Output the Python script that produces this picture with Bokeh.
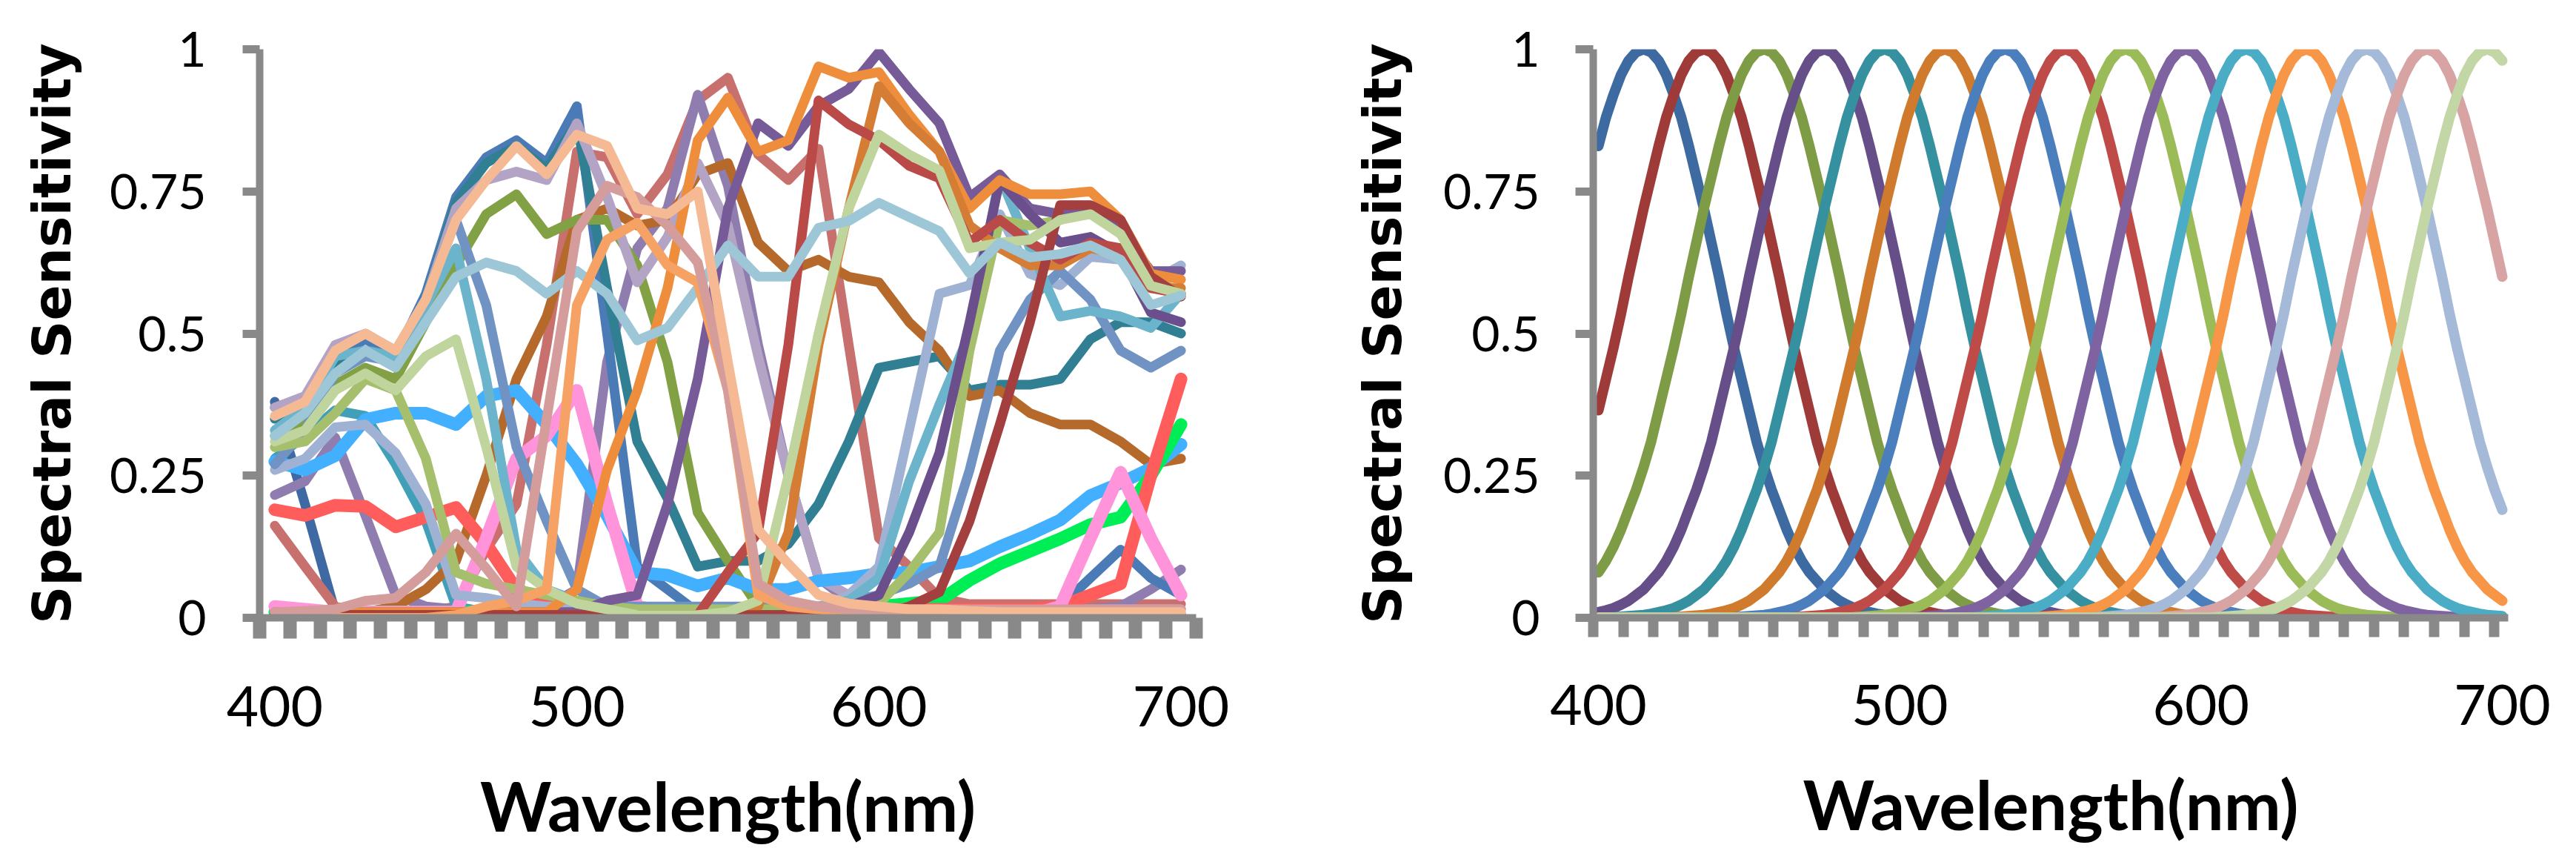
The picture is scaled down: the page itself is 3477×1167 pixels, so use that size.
from bokeh.plotting import figure
from bokeh.models import FixedTicker
from bokeh.layouts import row
from bokeh.embed import file_html
from bokeh.resources import INLINE

# ---------------- data: left chart (sampled every 10 nm) ----------------
WL = [400, 410, 420, 430, 440, 450, 460, 470, 480, 490, 500, 510, 520, 530, 540, 550,
      560, 570, 580, 590, 600, 610, 620, 630, 640, 650, 660, 670, 680, 690, 700]

S_darkblue = [0.38, 0.20, 0.01, 0.005, 0.005, 0.005, 0.005, 0.005, 0.005, 0.005, 0.005, 0.005, 0.005, 0.005, 0.005, 0.005,
              0.005, 0.005, 0.005, 0.005, 0.005, 0.005, 0.005, 0.005, 0.005, 0.005, 0.005, 0.005, 0.005, 0.005, 0.005]
S_dustyred = [0.162, 0.09, 0.02, 0.01, 0.01, 0.01, 0.02, 0.12, 0.20, 0.48, 0.82, 0.81, 0.71, 0.78, 0.91, 0.95,
              0.815, 0.77, 0.825, 0.48, 0.14, 0.09, 0.035, 0.024, 0.024, 0.024, 0.024, 0.024, 0.024, 0.024, 0.024]
S_purple = [0.216, 0.24, 0.317, 0.18, 0.04, 0.02, 0.015, 0.01, 0.01, 0.02, 0.05, 0.45, 0.65, 0.72, 0.92, 0.76,
            0.48, 0.25, 0.07, 0.03, 0.02, 0.015, 0.015, 0.015, 0.015, 0.015, 0.015, 0.015, 0.02, 0.05, 0.085]
S_teal2 = [0.28, 0.32, 0.365, 0.355, 0.27, 0.17, 0.02, 0.01, 0.005, 0.005, 0.005, 0.005, 0.005, 0.005, 0.005, 0.005,
           0.005, 0.005, 0.005, 0.005, 0.005, 0.005, 0.005, 0.005, 0.005, 0.005, 0.005, 0.005, 0.005, 0.005, 0.005]
S_blue = [0.37, 0.38, 0.46, 0.49, 0.46, 0.57, 0.74, 0.81, 0.84, 0.80, 0.90, 0.50, 0.09, 0.05, 0.01, 0.01,
          0.01, 0.01, 0.01, 0.01, 0.01, 0.01, 0.01, 0.01, 0.01, 0.01, 0.02, 0.07, 0.12, 0.07, 0.04]
S_teal = [0.35, 0.36, 0.44, 0.47, 0.45, 0.56, 0.73, 0.80, 0.83, 0.79, 0.87, 0.58, 0.31, 0.21, 0.09, 0.10,
          0.10, 0.13, 0.20, 0.31, 0.44, 0.45, 0.46, 0.40, 0.41, 0.41, 0.42, 0.49, 0.52, 0.52, 0.50]
S_brown = [0.005, 0.005, 0.01, 0.01, 0.02, 0.05, 0.10, 0.25, 0.42, 0.53, 0.70, 0.72, 0.69, 0.70, 0.78, 0.80,
           0.66, 0.61, 0.63, 0.60, 0.59, 0.52, 0.47, 0.39, 0.40, 0.36, 0.34, 0.34, 0.31, 0.27, 0.28]
S_olive = [0.32, 0.34, 0.41, 0.44, 0.42, 0.52, 0.62, 0.71, 0.745, 0.675, 0.70, 0.70, 0.62, 0.45, 0.185, 0.10,
           0.02, 0.01, 0.01, 0.005, 0.005, 0.005, 0.005, 0.005, 0.005, 0.005, 0.005, 0.005, 0.005, 0.005, 0.005]
S_lavender = [0.37, 0.39, 0.48, 0.50, 0.47, 0.56, 0.72, 0.77, 0.785, 0.77, 0.87, 0.74, 0.59, 0.67, 0.80, 0.69,
              0.46, 0.25, 0.07, 0.04, 0.02, 0.015, 0.015, 0.015, 0.015, 0.015, 0.015, 0.015, 0.015, 0.015, 0.015]
S_palecyan = [0.32, 0.36, 0.43, 0.47, 0.44, 0.52, 0.60, 0.625, 0.61, 0.57, 0.61, 0.57, 0.488, 0.51, 0.58, 0.655,
              0.60, 0.60, 0.686, 0.698, 0.73, 0.705, 0.68, 0.606, 0.66, 0.634, 0.64, 0.655, 0.63, 0.55, 0.567]
S_palegreen = [0.31, 0.33, 0.40, 0.43, 0.40, 0.46, 0.49, 0.30, 0.09, 0.05, 0.025, 0.015, 0.005, 0.005, 0.005, 0.01,
               0.03, 0.25, 0.50, 0.72, 0.85, 0.815, 0.787, 0.65, 0.66, 0.665, 0.70, 0.71, 0.675, 0.584, 0.57]
S_skyblue = [0.275, 0.26, 0.285, 0.349, 0.36, 0.36, 0.34, 0.39, 0.40, 0.34, 0.27, 0.18, 0.08, 0.075, 0.056, 0.07,
             0.05, 0.05, 0.065, 0.07, 0.078, 0.08, 0.09, 0.10, 0.125, 0.147, 0.172, 0.215, 0.237, 0.263, 0.305]
S_brightgreen = [0.01, 0.01, 0.01, 0.01, 0.01, 0.01, 0.01, 0.01, 0.01, 0.01, 0.01, 0.01, 0.01, 0.01, 0.01, 0.01,
                 0.01, 0.01, 0.01, 0.01, 0.02, 0.025, 0.03, 0.066, 0.095, 0.117, 0.139, 0.164, 0.177, 0.25, 0.34]
S_brightred = [0.19, 0.18, 0.198, 0.196, 0.16, 0.177, 0.194, 0.13, 0.05, 0.03, 0.02, 0.015, 0.015, 0.015, 0.015, 0.015,
               0.015, 0.015, 0.015, 0.015, 0.015, 0.015, 0.015, 0.015, 0.015, 0.015, 0.02, 0.04, 0.06, 0.25, 0.42]
S_pink = [0.02, 0.015, 0.01, 0.01, 0.01, 0.01, 0.01, 0.14, 0.28, 0.32, 0.40, 0.20, 0.02, 0.01, 0.005, 0.005,
          0.005, 0.005, 0.005, 0.005, 0.005, 0.005, 0.005, 0.005, 0.005, 0.005, 0.02, 0.14, 0.256, 0.14, 0.04]
S_steel = [0.26, 0.28, 0.335, 0.34, 0.29, 0.20, 0.04, 0.035, 0.025, 0.02, 0.02, 0.015, 0.015, 0.015, 0.015, 0.015,
           0.015, 0.015, 0.015, 0.04, 0.09, 0.33, 0.57, 0.585, 0.71, 0.605, 0.585, 0.635, 0.63, 0.59, 0.62]
S_medblue = [0.27, 0.33, 0.43, 0.46, 0.45, 0.56, 0.70, 0.55, 0.30, 0.17, 0.05, 0.02, 0.02, 0.02, 0.02, 0.02,
             0.02, 0.02, 0.02, 0.03, 0.04, 0.06, 0.09, 0.26, 0.47, 0.56, 0.61, 0.56, 0.47, 0.44, 0.47]
S_aqua = [0.33, 0.37, 0.46, 0.47, 0.46, 0.55, 0.65, 0.42, 0.12, 0.05, 0.03, 0.02, 0.015, 0.015, 0.015, 0.015,
          0.015, 0.015, 0.02, 0.03, 0.07, 0.24, 0.375, 0.50, 0.777, 0.65, 0.53, 0.54, 0.53, 0.51, 0.57]
S_green = [0.30, 0.31, 0.36, 0.42, 0.40, 0.28, 0.08, 0.06, 0.05, 0.04, 0.03, 0.02, 0.015, 0.015, 0.015, 0.015,
           0.015, 0.015, 0.015, 0.015, 0.025, 0.08, 0.15, 0.47, 0.70, 0.69, 0.70, 0.72, 0.685, 0.60, 0.57]
S_purple2 = [0.01, 0.01, 0.01, 0.01, 0.01, 0.01, 0.01, 0.01, 0.01, 0.01, 0.01, 0.03, 0.04, 0.20, 0.42, 0.72,
             0.87, 0.83, 0.90, 0.93, 0.995, 0.93, 0.87, 0.74, 0.78, 0.72, 0.71, 0.72, 0.68, 0.61, 0.61]
S_darkpurple = [0.005, 0.005, 0.005, 0.005, 0.005, 0.005, 0.005, 0.005, 0.005, 0.005, 0.005, 0.005, 0.005, 0.005, 0.005, 0.005,
                0.005, 0.005, 0.005, 0.02, 0.04, 0.15, 0.29, 0.52, 0.77, 0.71, 0.66, 0.67, 0.64, 0.537, 0.52]
S_orange = [0.01, 0.01, 0.01, 0.01, 0.01, 0.01, 0.01, 0.01, 0.01, 0.01, 0.05, 0.26, 0.40, 0.58, 0.84, 0.915,
            0.82, 0.84, 0.97, 0.95, 0.96, 0.885, 0.82, 0.72, 0.77, 0.745, 0.745, 0.75, 0.70, 0.605, 0.595]
S_darkorange = [0.005, 0.005, 0.005, 0.005, 0.005, 0.005, 0.005, 0.005, 0.005, 0.005, 0.005, 0.005, 0.005, 0.005, 0.005, 0.005,
                0.02, 0.15, 0.48, 0.72, 0.935, 0.87, 0.82, 0.69, 0.65, 0.62, 0.62, 0.65, 0.64, 0.58, 0.58]
S_brickred = [0.005, 0.005, 0.005, 0.005, 0.005, 0.005, 0.005, 0.005, 0.005, 0.005, 0.005, 0.005, 0.005, 0.005, 0.005, 0.08,
              0.15, 0.48, 0.91, 0.868, 0.84, 0.795, 0.773, 0.66, 0.70, 0.66, 0.63, 0.66, 0.65, 0.58, 0.57]
S_darkred = [0.005, 0.005, 0.005, 0.005, 0.005, 0.005, 0.005, 0.005, 0.005, 0.005, 0.005, 0.005, 0.005, 0.005, 0.005, 0.005,
             0.005, 0.005, 0.005, 0.005, 0.005, 0.02, 0.045, 0.17, 0.34, 0.52, 0.726, 0.726, 0.70, 0.60, 0.565]
S_lightorange = [0.0, 0.0, 0.0, 0.0, 0.0, 0.0, 0.005, 0.02, 0.03, 0.05, 0.55, 0.665, 0.695, 0.62, 0.59, 0.40,
                 0.04, 0.02, 0.015, 0.01, 0.01, 0.01, 0.01, 0.01, 0.01, 0.01, 0.01, 0.01, 0.01, 0.01, 0.01]
S_dustypink = [0.01, 0.012, 0.015, 0.03, 0.035, 0.08, 0.148, 0.087, 0.02, 0.35, 0.68, 0.76, 0.74, 0.69, 0.625, 0.40,
               0.06, 0.03, 0.02, 0.015, 0.015, 0.015, 0.015, 0.015, 0.015, 0.015, 0.015, 0.015, 0.015, 0.015, 0.015]
S_peach = [0.355, 0.38, 0.47, 0.50, 0.47, 0.56, 0.70, 0.77, 0.83, 0.78, 0.85, 0.83, 0.72, 0.71, 0.75, 0.45,
           0.155, 0.095, 0.04, 0.025, 0.02, 0.015, 0.015, 0.012, 0.01, 0.01, 0.01, 0.01, 0.01, 0.01, 0.01]

LEFT_SERIES = [
    (S_darkblue, "#3E69A3", 13), (S_dustyred, "#C8706E", 13), (S_purple, "#907DB0", 13),
    (S_teal2, "#41A0B8", 13), (S_blue, "#4A7BB7", 13), (S_teal, "#317F93", 13),
    (S_brown, "#B5692B", 13), (S_olive, "#82A044", 13), (S_lavender, "#B3A3C5", 13),
    (S_skyblue, "#42AFFF", 17), (S_brightgreen, "#00EE55", 17), (S_brightred, "#FF5C5C", 17),
    (S_pink, "#FF94DB", 17), (S_steel, "#A0B2D3", 13), (S_medblue, "#7093C4", 13),
    (S_aqua, "#6CB4CB", 13), (S_green, "#A5BF6D", 13), (S_purple2, "#775A98", 13),
    (S_darkpurple, "#6A4F8C", 13), (S_orange, "#EE8D3C", 13), (S_darkorange, "#D57D35", 13),
    (S_brickred, "#B94A48", 13), (S_darkred, "#A33F3E", 13), (S_palegreen, "#C0D49E", 13),
    (S_palecyan, "#9DC6D6", 13), (S_lightorange, "#F6A265", 13), (S_dustypink, "#D49C9B", 13),
    (S_peach, "#F5B994", 13),
]

# ---------------- data: right chart (identical bands, peaks every 20 nm) ----------------
X2 = [400 + 2.5 * i for i in range(121)]
PEAKS = [415, 435, 455, 475, 495, 515, 535, 555, 575, 595, 615, 635, 655, 675, 695]
# band response, at 2.5 nm steps away from the peak
PROFILE = [1.0, 0.995, 0.98, 0.955, 0.92, 0.88, 0.83, 0.775, 0.72, 0.66, 0.60, 0.535, 0.475,
           0.42, 0.365, 0.31, 0.265, 0.225, 0.19, 0.155, 0.125, 0.10, 0.08, 0.065, 0.05, 0.04,
           0.03, 0.023, 0.017, 0.013, 0.01, 0.007, 0.005, 0.004, 0.003, 0.002, 0.001]
RIGHT_COLORS = ["#3D6AA1", "#9E3B38", "#7E9C45", "#664F88", "#35909F", "#D07A2E", "#4A7EBC",
                "#BE4B48", "#9BBB59", "#7F63A1", "#4BACC6", "#F79646", "#A5B9D8", "#D8A4A3", "#C3D6A6"]

Y_TICKS = [0, 0.25, 0.5, 0.75, 1]
Y_LABELS = {0: "0", 0.25: "0.25", 0.5: "0.5", 0.75: "0.75", 1: "1"}
X_LABEL_TICKS = [400, 500, 600, 700]

GRAY = "#898989"
TICK_FONT = "Lato"


def band(peak):
    out = []
    for x in X2:
        k = int(round(abs(x - peak) / 2.5))
        out.append(PROFILE[k] if k < len(PROFILE) else 0.0)
    return out


def style(p, minor, xtick_w, xtick_out, ytick_out, ylab_standoff, ytitle_standoff):
    p.xgrid.visible = False
    p.ygrid.visible = False
    p.outline_line_color = None
    p.background_fill_color = "white"
    p.border_fill_color = "white"

    xa = p.xaxis[0]
    xa.ticker = FixedTicker(ticks=X_LABEL_TICKS, minor_ticks=minor)
    xa.axis_line_color = GRAY
    xa.axis_line_width = 10
    xa.major_tick_line_color = None
    xa.major_tick_out = 0
    xa.major_tick_in = 0
    xa.minor_tick_line_color = GRAY
    xa.minor_tick_line_width = xtick_w
    xa.minor_tick_out = xtick_out
    xa.minor_tick_in = 0
    xa.major_label_text_font = TICK_FONT
    xa.major_label_text_font_size = "75px"
    xa.major_label_text_color = "black"
    xa.major_label_standoff = 64
    xa.axis_label = "Wavelength(nm)"
    xa.axis_label_text_font = TICK_FONT
    xa.axis_label_text_font_style = "bold"
    xa.axis_label_text_font_size = "92px"
    xa.axis_label_text_color = "black"
    xa.axis_label_standoff = 48

    ya = p.yaxis[0]
    ya.ticker = FixedTicker(ticks=Y_TICKS)
    ya.major_label_overrides = Y_LABELS
    ya.axis_line_color = GRAY
    ya.axis_line_width = 10
    ya.major_tick_line_color = GRAY
    ya.major_tick_line_width = 11
    ya.major_tick_out = ytick_out
    ya.major_tick_in = 0
    ya.minor_tick_line_color = None
    ya.major_label_text_font = TICK_FONT
    ya.major_label_text_font_size = "66px"
    ya.major_label_text_color = "black"
    ya.major_label_standoff = ylab_standoff
    ya.axis_label = "Spectral Sensitivity"
    ya.axis_label_text_font = "DejaVu Sans"
    ya.axis_label_text_font_style = "bold"
    ya.axis_label_text_font_size = "71px"
    ya.axis_label_text_color = "black"
    ya.axis_label_standoff = ytitle_standoff


H = 1150

# ---------------- left figure ----------------
p1 = figure(width=1750, height=H, x_range=(395, 705), y_range=(0, 1),
            output_backend="svg", toolbar_location=None,
            min_border_left=350, min_border_right=136, min_border_top=66, min_border_bottom=H - 843)
minor1 = [395 + 10 * k for k in range(32)]
style(p1, minor1, 18, 28, 23, 49, 33)
for ys, col, lw in LEFT_SERIES:
    p1.line(WL, ys, line_color=col, line_width=lw, line_join="round", line_cap="round")

# ---------------- right figure ----------------
W2 = 3461 - 1750
p2 = figure(width=W2, height=H, x_range=(398.28, 701.97), y_range=(0, 1),
            output_backend="svg", toolbar_location=None,
            min_border_left=400, min_border_right=W2 - 1635, min_border_top=60, min_border_bottom=H - 833)
minor2 = [398.3 + 9.967 * k for k in range(31)]
style(p2, minor2, 14, 26, 24, 48, 37)
for pk, col in zip(PEAKS, RIGHT_COLORS):
    p2.line(X2, band(pk), line_color=col, line_width=14, line_join="round", line_cap="round")

layout = row(p1, p2)
open("out.html", "w").write(file_html(layout, INLINE))
